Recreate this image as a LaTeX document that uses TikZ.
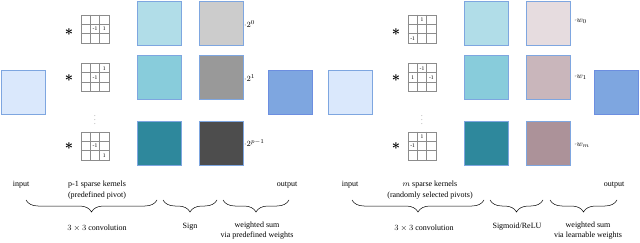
\documentclass[tikz,border=0pt]{standalone}
\usepackage{fontspec}
\setmainfont{Liberation Serif}
\usetikzlibrary{positioning, calc, decorations.pathreplacing}

\definecolor{edgeblue}{HTML}{7EA6E0}
\definecolor{inblue}{HTML}{DAE8FC}
\definecolor{outblue}{HTML}{7EA6E0}
\definecolor{outedge}{HTML}{6C8EE0}
\definecolor{gridgray}{HTML}{8C8C8C}
\definecolor{tealA}{HTML}{B1DDE8}
\definecolor{tealB}{HTML}{88CCDB}
\definecolor{tealC}{HTML}{2E889C}
\definecolor{grayA}{HTML}{CCCCCC}
\definecolor{grayB}{HTML}{999999}
\definecolor{grayC}{HTML}{4D4D4D}
\definecolor{roseA}{HTML}{E6DCDF}
\definecolor{roseB}{HTML}{C9B6BB}
\definecolor{roseC}{HTML}{AC9299}

% 3x3 kernel: name, centre, entries col/row/value
\newcommand{\kernel}[3]{%
  \node[kern] (#1) at (#2) {};
  \foreach \t in {1,2} {
    \draw[kline] ($(#1.north west)!\t/3!(#1.north east)$) -- ($(#1.south west)!\t/3!(#1.south east)$);
    \draw[kline] ($(#1.north west)!\t/3!(#1.south west)$) -- ($(#1.north east)!\t/3!(#1.south east)$);
  }
  \foreach \c/\r/\v in {#3}
    \node[kval] at ($(#1.center)+(\c*9.3,\r*9.3)$) {\v};
}

\begin{document}
\begin{tikzpicture}[x=1pt, y=-1pt,
        font=\fontsize{8}{9.5}\selectfont,
        fmap/.style={rectangle, draw=edgeblue, line width=0.8pt, inner sep=0pt,
                     minimum size=44pt},
        kern/.style={rectangle, draw=gridgray, line width=0.6pt, inner sep=0pt,
                     minimum size=28pt},
        kline/.style={draw=gridgray, line width=0.6pt},
        kval/.style={font=\fontsize{5.5}{5.5}\selectfont, inner sep=0pt},
        conv/.style={font=\Large\boldmath, inner sep=0pt},
        wlab/.style={anchor=west, inner sep=0pt},
        brc/.style={decorate, decoration={brace, mirror, amplitude=12pt}, line width=0.5pt},
        lab/.style={align=center, inner sep=0pt}]
  \useasboundingbox (0,0) rectangle (640,243);

  % ---- left: binary (sign) network ----
  \node[fmap, fill=inblue] (inL) at (23,92) {};

  \kernel{kL1}{95,29}{0/0/-1, 1/0/1}
  \kernel{kL2}{95,77.5}{1/-1/1, 0/0/-1}
  \kernel{kL3}{95,146}{0/0/-1, 1/1/1}
  \node[conv] (sL1) at (69,32) {$\ast$};
  \node[conv] (sL2) at (69,78) {$\ast$};
  \node[conv] (sL3) at (69,146) {$\ast$};
  \node[inner sep=0pt, font=\tiny] (dL) at (95,117) {$\vdots$};

  \node[fmap, fill=tealA] (gL1) at (159.5,23) {};
  \node[fmap, fill=tealB] (gL2) at (159.5,77.5) {};
  \node[fmap, fill=tealC] (gL3) at (159.5,143) {};

  \node[fmap, fill=grayA] (wL1) at (221,23) {};
  \node[fmap, fill=grayB] (wL2) at (221,77.5) {};
  \node[fmap, fill=grayC] (wL3) at (221,143) {};
  \node[wlab] (cL1) at (244,24) {$\cdot 2^{0}$};
  \node[wlab] (cL2) at (244,78) {$\cdot 2^{1}$};
  \node[wlab] (cL3) at (244,143) {$\cdot 2^{p-1}$};

  \node[fmap, fill=outblue, draw=outedge] (outL) at (290,92) {};

  \node[lab] (tinL) at (21,185) {input};
  \node[lab] (tkL) at (97,185) {p-1 sparse kernels};
  \node[lab, below=3pt of tkL] {(predefined pivot)};
  \node[lab] (toutL) at (287,185) {output};

  \coordinate (b1a) at (26,200);  \coordinate (b1b) at (157,200);
  \coordinate (b2a) at (163,200); \coordinate (b2b) at (217,200);
  \coordinate (b3a) at (223,200); \coordinate (b3b) at (289,200);
  \draw[brc] (b1a) -- (b1b);
  \draw[brc] (b2a) -- (b2b);
  \draw[brc] (b3a) -- (b3b);
  \node[lab] (tcL) at (97,228) {$3\times3$ convolution};
  \node[lab] (tsL) at (190,227) {Sign};
  \node[lab] (twL) at (257,226) {weighted sum};
  \node[lab, below=2pt of twL] {via predefined weights};

  % ---- right: learnable network ----
  \node[fmap, fill=inblue] (inR) at (350,92) {};

  \kernel{kR1}{422,29}{0/-1/1, -1/1/-1}
  \kernel{kR2}{422,77.5}{0/-1/-1, -1/0/1, 1/0/-1}
  \kernel{kR3}{422,146}{0/-1/1, -1/0/-1}
  \node[conv] (sR1) at (396,32) {$\ast$};
  \node[conv] (sR2) at (396,78) {$\ast$};
  \node[conv] (sR3) at (396,146) {$\ast$};
  \node[inner sep=0pt, font=\tiny] (dR) at (422,117) {$\vdots$};

  \node[fmap, fill=tealA] (gR1) at (486,23) {};
  \node[fmap, fill=tealB] (gR2) at (486,77.5) {};
  \node[fmap, fill=tealC] (gR3) at (486,143) {};

  \node[fmap, fill=roseA] (wR1) at (548,23) {};
  \node[fmap, fill=roseB] (wR2) at (548,77.5) {};
  \node[fmap, fill=roseC] (wR3) at (548,143) {};
  \node[wlab] (cR1) at (574,21) {$\cdot w_{0}$};
  \node[wlab] (cR2) at (574,77) {$\cdot w_{1}$};
  \node[wlab] (cR3) at (574,145) {$\cdot w_{m}$};

  \node[fmap, fill=outblue, draw=outedge] (outR) at (616.5,92) {};

  \node[lab] (tinR) at (350,185) {input};
  \node[lab] (tkR) at (430,185) {$m$ sparse kernels};
  \node[lab, below=3pt of tkR] {(randomly selected pivots)};
  \node[lab] (toutR) at (614,185) {output};

  \coordinate (b4a) at (352,200); \coordinate (b4b) at (484,200);
  \coordinate (b5a) at (490,200); \coordinate (b5b) at (543,200);
  \coordinate (b6a) at (550,200); \coordinate (b6b) at (617,200);
  \draw[brc] (b4a) -- (b4b);
  \draw[brc] (b5a) -- (b5b);
  \draw[brc] (b6a) -- (b6b);
  \node[lab] (tcR) at (424,228) {$3\times3$ convolution};
  \node[lab] (tsR) at (517,227) {Sigmoid/ReLU};
  \node[lab] (twR) at (588,226) {weighted sum};
  \node[lab, below=2pt of twR] {via learnable weights};
\end{tikzpicture}
\end{document}
